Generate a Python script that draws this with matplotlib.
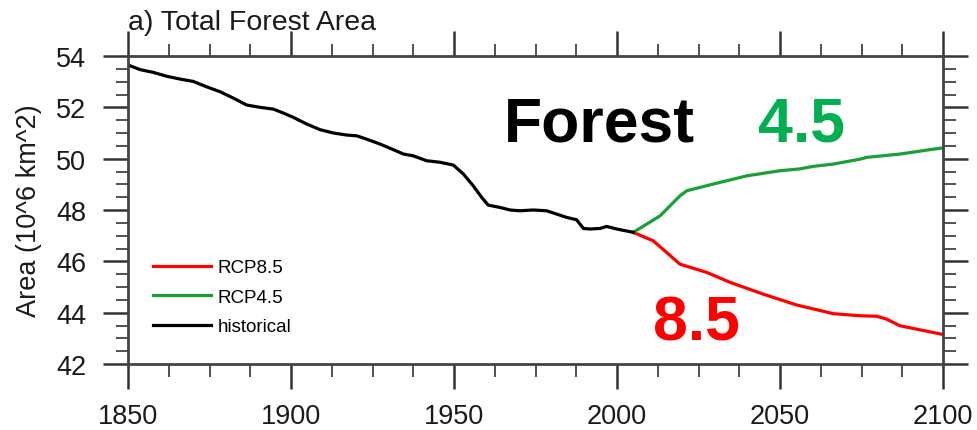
import matplotlib
matplotlib.use("Agg")
import matplotlib.pyplot as plt
from matplotlib.ticker import MultipleLocator

# ---- data ----
hist_years = [1850, 1850.6, 1853.7, 1857.8, 1861.9, 1866, 1870, 1874.1, 1878.2, 1882.3,
              1886.4, 1890.5, 1894.6, 1897.6, 1900.7, 1904.8, 1908.9, 1913, 1917.1,
              1920.2, 1923.2, 1927.3, 1931.4, 1934.5, 1937.5, 1941.6, 1945.7, 1949.8,
              1952.9, 1955.9, 1958.5, 1960.5, 1964.1, 1967.2, 1970.2, 1974.3, 1978.4,
              1981.5, 1984.6, 1987.6, 1989.7, 1991.7, 1994.8, 1996.8, 1999.9, 2005]
hist_vals = [53.65, 53.62, 53.47, 53.36, 53.21, 53.10, 53.01, 52.80, 52.61, 52.36,
             52.09, 52.00, 51.93, 51.78, 51.61, 51.35, 51.13, 51.00, 50.92,
             50.89, 50.76, 50.57, 50.35, 50.18, 50.11, 49.92, 49.86, 49.75,
             49.40, 48.94, 48.49, 48.19, 48.10, 48.00, 47.97, 48.00, 47.97,
             47.84, 47.71, 47.62, 47.28, 47.26, 47.28, 47.36, 47.26, 47.13]

rcp45_years = [2005, 2013.2, 2019.3, 2021.4, 2029.5, 2039.8, 2050, 2056, 2060.2,
               2066.4, 2074.5, 2076.6, 2086.8, 2097, 2100]
rcp45_vals = [47.13, 47.77, 48.55, 48.75, 49.01, 49.33, 49.53, 49.60, 49.70,
              49.79, 49.98, 50.05, 50.18, 50.37, 50.42]

rcp85_years = [2005, 2011.1, 2015.2, 2019.3, 2027.5, 2034.7, 2044.9, 2055.1,
               2066.4, 2074.5, 2079.7, 2082.7, 2086.8, 2100]
rcp85_vals = [47.13, 46.80, 46.35, 45.89, 45.57, 45.18, 44.72, 44.30,
              43.96, 43.88, 43.86, 43.75, 43.49, 43.15]

series_labels = ["RCP8.5", "RCP4.5", "historical"]
title_text = "a) Total Forest Area"
ylabel_text = "Area (10^6 km^2)"
xticks = [1850, 1900, 1950, 2000, 2050, 2100]
yticks = [42, 44, 46, 48, 50, 52, 54]

# ---- figure ----
plt.rcParams['font.family'] = ['Liberation Sans', 'DejaVu Sans']
fig = plt.figure(figsize=(9.77, 4.31), dpi=100)
ax = fig.add_axes([128/977, 1-365/431, (943-128)/977, (365-57)/431])

RED = '#ff0000'
GREEN = '#17a035'
l85, = ax.plot(rcp85_years, rcp85_vals, color=RED, lw=2.3, label=series_labels[0])
l45, = ax.plot(rcp45_years, rcp45_vals, color=GREEN, lw=2.3, label=series_labels[1])
lh, = ax.plot(hist_years, hist_vals, color='black', lw=2.3, label=series_labels[2])

ax.set_xlim(1850, 2100)
ax.set_ylim(42, 54)
ax.set_xticks(xticks)
ax.set_yticks(yticks)
ax.xaxis.set_minor_locator(MultipleLocator(12.5))
ax.yaxis.set_minor_locator(MultipleLocator(0.5))
ax.tick_params(which='both', direction='out', top=True, right=True,
               labeltop=False, labelright=False, colors='#333333', labelcolor='#1a1a1a')
ax.tick_params(which='major', length=18, width=1.8, labelsize=19.5, pad=12)
ax.tick_params(axis='x', which='major', pad=10)
ax.tick_params(which='minor', length=9, width=1.2)
for s in ax.spines.values():
    s.set_linewidth(2.0)
    s.set_color('#444444')

ax.set_ylabel(ylabel_text, fontsize=19.5, labelpad=10, color='#1a1a1a')
fig.text(128/977, 1-30/431, title_text, fontsize=20.5, ha='left', va='baseline', color='#1a1a1a')

leg = ax.legend(handles=[l85, l45, lh], loc='upper left', frameon=False,
                bbox_to_anchor=((153-128)/815, (365-260)/308), fontsize=13.5,
                handlelength=3.1, handletextpad=0.35, labelspacing=0.66,
                borderaxespad=0, borderpad=0)

ax.text(1965.2, 50.69, "Forest", fontsize=45, fontweight='bold', color='black',
        ha='left', va='baseline')
ax.text(2043.3, 50.69, "4.5", fontsize=45, fontweight='bold', color='#00b050',
        ha='left', va='baseline')
ax.text(2011.0, 42.97, "8.5", fontsize=45, fontweight='bold', color=RED,
        ha='left', va='baseline')

fig.savefig("out.png", dpi=100)
